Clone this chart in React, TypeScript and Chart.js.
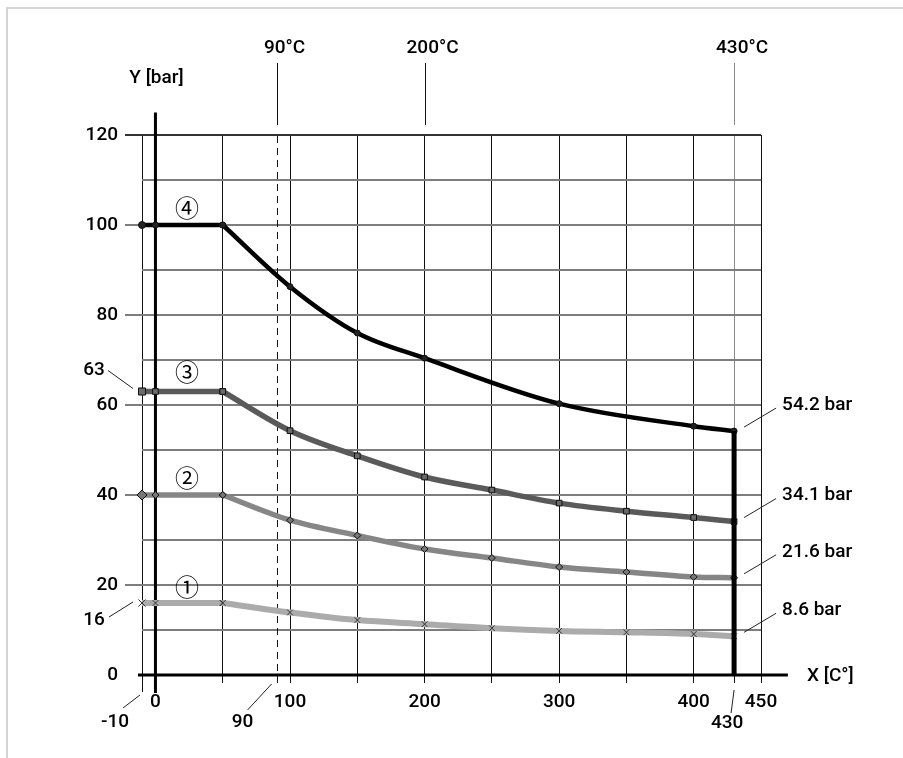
import React, { useEffect, useRef } from "react";
import { Chart, registerables } from "chart.js";
Chart.register(...registerables);

// ---- data ----
const xPoints = [-10, 0, 50, 100, 150, 200, 250, 300, 350, 400, 430];
const series1 = [16, 16, 16, 13.9, 12.2, 11.3, 10.4, 9.8, 9.5, 9.1, 8.6];
const series2 = [40, 40, 40, 34.4, 31.0, 28.0, 26.0, 24.0, 22.9, 21.8, 21.6];
const series3 = [63, 63, 63, 54.3, 48.7, 44.0, 41.1, 38.2, 36.4, 35.0, 34.1];
const series4X = [-10, 0, 50, 100, 150, 200, 300, 400, 430];
const series4 = [100, 100, 100, 86.3, 76.0, 70.4, 60.3, 55.3, 54.2];
const limitX = [430, 430];
const limitY = [54.2, 0];

const xTickValues = [-10, 0, 50, 100, 150, 200, 250, 300, 350, 400, 430, 450];
const xTickLabels = [0, 100, 200, 300, 400, 450];
const yTickLabels = [20, 40, 60, 80, 100, 120];
const tempMarks = [90, 200, 430];
const tempLabels = ["90°C", "200°C", "430°C"];
const endValues = [54.2, 34.1, 21.6, 8.6];
const endLabels = ["54.2 bar", "34.1 bar", "21.6 bar", "8.6 bar"];
const curveNames = ["①", "②", "③", "④"];
const curveLabelY = [19.6, 43.8, 67.3, 103.8];
const curveLabelX = 23.5;
const plateauEnd = 50; // x where the flat part of every curve ends

const FONT = "Roboto, 'Liberation Sans', sans-serif";
const WEIGHT = "500";

export default function App() {
  const ref = useRef<HTMLCanvasElement>(null);

  useEffect(() => {
    const canvas = ref.current!;
    const pts = (xs: number[], ys: number[]) => xs.map((x, i) => ({ x, y: ys[i] }));
    const flat = (xs: number[], ys: number[]) => pts(xs, ys).filter((p) => p.x <= plateauEnd);
    const curve = (xs: number[], ys: number[]) => pts(xs, ys).filter((p) => p.x >= plateauEnd);

    const overlay = {
      id: "overlay",
      beforeDatasetsDraw(chart: any) {
        const c = chart.ctx;
        const xs = chart.scales.x;
        const ys = chart.scales.y;
        const px = (v: number) => xs.getPixelForValue(v);
        const py = (v: number) => ys.getPixelForValue(v);
        c.save();
        c.strokeStyle = "#111";
        c.lineWidth = 1;
        c.setLineDash([7, 5]);
        c.beginPath();
        c.moveTo(Math.round(px(90)) + 0.5, py(0) + 8);
        c.lineTo(Math.round(px(90)) + 0.5, py(120));
        c.stroke();
        c.setLineDash([]);
        tempMarks.forEach((t) => {
          c.strokeStyle = t === 430 ? "#8a8a8a" : "#111";
          c.beginPath();
          c.moveTo(Math.round(px(t)) + 0.5, py(120) - 10);
          c.lineTo(Math.round(px(t)) + 0.5, 63);
          c.stroke();
        });
        c.strokeStyle = "#111";
        c.beginPath();
        c.moveTo(Math.round(px(-10)) + 0.5, py(0));
        c.lineTo(Math.round(px(-10)) + 0.5, py(0) + 17);
        c.stroke();
        c.strokeStyle = "#000";
        c.lineWidth = 3;
        c.beginPath();
        c.moveTo(px(-13), py(0));
        c.lineTo(px(470), py(0));
        c.stroke();
        c.beginPath();
        c.moveTo(px(0), py(-4));
        c.lineTo(px(0), py(125));
        c.stroke();
        c.restore();
      },
      afterDraw(chart: any) {
        const c = chart.ctx;
        const xs = chart.scales.x;
        const ys = chart.scales.y;
        const px = (v: number) => xs.getPixelForValue(v);
        const py = (v: number) => ys.getPixelForValue(v);
        c.save();
        c.fillStyle = "#000";
        c.strokeStyle = "#222";
        c.lineWidth = 1;
        c.font = `${WEIGHT} 19px ${FONT}`;
        c.textBaseline = "middle";
        const line = (x1: number, y1: number, x2: number, y2: number) => {
          c.beginPath();
          c.moveTo(x1, y1);
          c.lineTo(x2, y2);
          c.stroke();
        };
        c.textAlign = "center";
        tempMarks.forEach((t, i) => c.fillText(tempLabels[i], px(t) + 8, 48));
        c.fillText("Y [bar]", px(0) + 1, 78);
        c.textAlign = "left";
        c.fillText("X [C°]", 807, py(0) + 1);
        c.textAlign = "center";
        c.fillText("-10", px(-10) - 27, py(0) + 47);
        line(px(-10) - 19, py(0) + 33, px(-10) - 2, py(0) + 20);
        c.fillText("90", px(90) - 34, py(0) + 47);
        line(px(90) - 29, py(0) + 35, px(90) - 5, py(0) + 9);
        c.fillText("430", px(430) - 7, py(0) + 48);
        line(px(430) - 3, py(0) + 38, px(430), py(0) + 15);
        c.fillText("63", px(-10) - 48, py(63) - 21);
        line(px(-10) - 34, py(63) - 21, px(-10) - 9, py(63) - 3);
        c.fillText("16", px(-10) - 48, py(16) + 17);
        line(px(-10) - 33, py(16) + 14, px(-10) - 9, py(16) - 1);
        c.textAlign = "left";
        endValues.forEach((v, i) => {
          c.fillText(endLabels[i], px(430) + 48, py(v) - 26);
          line(px(430) + 42, py(v) - 23, px(430) + 10, py(v) - 4);
        });
        c.textAlign = "center";
        c.font = `24px 'Noto Sans CJK SC', 'DejaVu Sans', sans-serif`;
        curveNames.forEach((n, i) => c.fillText(n, px(curveLabelX), py(curveLabelY[i])));
        c.restore();
      },
    };

    const common = {
      pointBorderColor: "#111",
      pointBorderWidth: 1,
      clip: false,
      fill: false,
    };

    const makeSeries = (
      name: string,
      xs: number[],
      ys: number[],
      color: string,
      pointFill: string,
      width: number,
      style: string,
      firstR: number,
      restR: number,
      pointBorder = "#111"
    ) => {
      const f = flat(xs, ys);
      const cv = curve(xs, ys);
      return [
        {
          ...common,
          label: name,
          data: cv,
          borderColor: color,
          backgroundColor: color,
          pointBackgroundColor: pointFill,
          pointBorderColor: pointBorder,
          borderWidth: width,
          pointStyle: style,
          pointRadius: restR,
          cubicInterpolationMode: "monotone",
        },
        {
          ...common,
          label: name + " plateau",
          data: f,
          borderColor: color,
          backgroundColor: color,
          pointBackgroundColor: pointFill,
          pointBorderColor: pointBorder,
          borderWidth: width,
          pointStyle: style,
          pointRadius: f.map((_, i) => (i === 0 ? firstR : restR)),
          tension: 0,
        },
      ];
    };

    const chart = new Chart(canvas, {
      type: "line",
      data: {
        datasets: [
          {
            ...common,
            label: "limit",
            data: pts(limitX, limitY),
            borderColor: "#000",
            borderWidth: 5,
            pointRadius: 0,
          },
          ...makeSeries("④", series4X, series4, "#000", "#222", 4.5, "circle", 3.5, 3),
          ...makeSeries("③", xPoints, series3, "#5a5a5a", "#6a6a6a", 5.5, "rect", 5, 4),
          ...makeSeries("②", xPoints, series2, "#868686", "#777", 5.5, "rectRot", 5, 3.5),
          ...makeSeries("①", xPoints, series1, "#ababab", "#ababab", 6, "crossRot", 5, 4, "#333"),
        ],
      } as any,
      options: {
        animation: false,
        responsive: true,
        maintainAspectRatio: false,
        layout: { padding: { left: 0, top: 135, right: 142, bottom: 0 } },
        plugins: { legend: { display: false }, tooltip: { enabled: false } },
        scales: {
          x: {
            type: "linear",
            min: -10,
            max: 450,
            afterBuildTicks: (s: any) => {
              s.ticks = xTickValues.map((v) => ({ value: v }));
            },
            afterFit: (s: any) => {
              s.height = 83;
            },
            border: { display: false },
            grid: {
              color: (ctx: any) => {
                const v = ctx.tick?.value;
                if (v === 0) return "rgba(0,0,0,0)";
                if (v === 430) return "#8a8a8a";
                return "#111";
              },
              tickColor: (ctx: any) => {
                const v = ctx.tick?.value;
                if (v === 0) return "rgba(0,0,0,0)";
                return "#111";
              },
              lineWidth: 1,
              tickLength: 8,
            },
            ticks: {
              autoSkip: false,
              maxRotation: 0,
              padding: 8,
              color: "#000",
              font: { family: FONT, size: 19, weight: WEIGHT },
              callback: (v: any) => (xTickLabels.includes(Number(v)) ? String(v) : ""),
            },
          },
          y: {
            type: "linear",
            min: 0,
            max: 120,
            afterFit: (s: any) => {
              s.width = 142;
            },
            border: { display: false },
            grid: {
              color: (ctx: any) => {
                const v = ctx.tick?.value;
                if (v === 0) return "rgba(0,0,0,0)";
                if (v === 120) return "#333";
                return "#7d7d7d";
              },
              tickColor: (ctx: any) => {
                const v = ctx.tick?.value;
                if (yTickLabels.includes(v)) return v === 120 ? "#333" : "#7d7d7d";
                return "rgba(0,0,0,0)";
              },
              lineWidth: 2,
              tickLength: 17,
            },
            ticks: {
              stepSize: 10,
              padding: 7,
              color: "#000",
              font: { family: FONT, size: 19, weight: WEIGHT },
              callback: (v: any) => (Number(v) % 20 === 0 ? String(v) : ""),
            },
          },
        },
      } as any,
      plugins: [overlay],
    });
    return () => chart.destroy();
  }, []);

  return (
    <div style={{ position: "absolute", left: 0, top: 0, width: 903, height: 758, background: "#fff" }}>
      <div
        style={{
          position: "absolute",
          left: 6,
          top: 7,
          right: 0,
          bottom: 0,
          borderLeft: "2px solid #d4d4d4",
          borderTop: "2px solid #d4d4d4",
        }}
      />
      <canvas ref={ref} style={{ position: "absolute", left: 0, top: 0 }} />
    </div>
  );
}
